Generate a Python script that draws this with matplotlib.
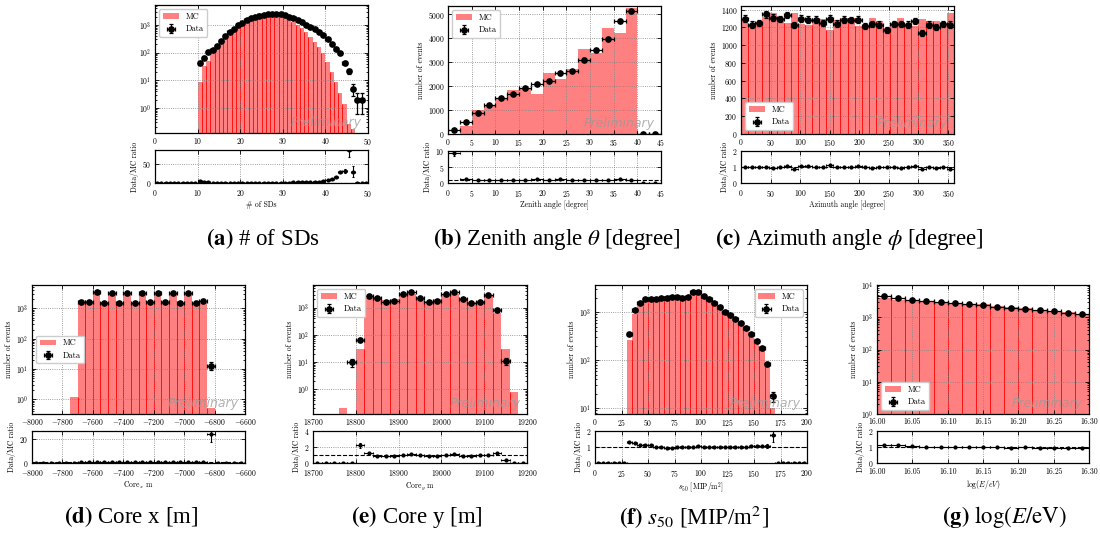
# Data/MC comparison plots for the SD reconstruction variables
import numpy as np
import matplotlib
matplotlib.use("Agg")
import matplotlib.pyplot as plt
from matplotlib.ticker import FormatStrFormatter

plt.rcParams["font.family"] = ["cmr10", "DejaVu Serif"]
plt.rcParams["mathtext.fontset"] = "cm"
plt.rcParams["axes.formatter.use_mathtext"] = True

# ---------------- data ----------------
# (a) number of SDs, bins of 1
sd_edges = np.arange(0, 51, 1)
sd_mc = [0] * 10 + [9, 33, 50, 110, 165, 250, 400, 575, 800, 1090,
                    1320, 1650, 2000, 2300, 2650, 2800, 2800, 2750, 2650, 2300,
                    2000, 1600, 1320, 1000, 760, 540, 380, 250, 155, 95,
                    45, 20, 9, 3.5, 1.4, 0.26, 0.17] + [0] * 3
sd_data = [0] * 10 + [44, 66, 110, 125, 173, 257, 400, 540, 720, 1000,
                      1200, 1500, 1750, 2000, 2180, 2350, 2430, 2500, 2500, 2430,
                      2250, 2000, 1750, 1500, 1250, 1000, 870, 700, 540, 420,
                      300, 200, 140, 100, 44, 22, 5, 2, 2] + [0]

# (b) zenith angle, bins of 2.5 deg
zen_edges = np.arange(0, 47.5, 2.5)
zen_mc = [18, 350, 1010, 1150, 1450, 1850, 1870, 1670, 2560, 2300,
          2710, 3560, 3400, 4430, 4210, 5260, 0, 0]
zen_data = [167, 486, 860, 1210, 1500, 1690, 1930, 2100, 2220, 2530,
            2640, 3100, 3500, 3970, 4720, 5125, 0, 0]

# (c) azimuth angle, bins of 12 deg
azi_edges = np.arange(0, 361, 12)
azi_mc = [1280, 1240, 1260, 1320, 1360, 1300, 1250, 1360, 1240, 1230,
          1290, 1290, 1170, 1280, 1300, 1300, 1210, 1230, 1310, 1270,
          1190, 1240, 1310, 1240, 1210, 1290, 1270, 1270, 1250, 1360]
azi_data = [1299, 1231, 1250, 1347, 1310, 1291, 1336, 1224, 1299, 1287,
            1287, 1250, 1299, 1243, 1287, 1280, 1287, 1213, 1235, 1231,
            1175, 1235, 1235, 1231, 1269, 1138, 1231, 1205, 1235, 1231]

# (d) core x, bins of 50 m
cx_edges = np.arange(-8000, -6599, 50)
cx_mc = [0] * 5 + [1.2, 1550, 1800, 3200, 1600, 3200, 1550, 3200, 1500, 3100,
                   1550, 3100, 1550, 3200, 1500, 3200, 1500, 1460, 0.53] + [0] * 4
cx_data = [0] * 6 + [1577, 1660, 3370, 1540, 3270, 1540, 3270, 1460, 3120,
                     1580, 3120, 1580, 3270, 1540, 3270, 1540, 1790, 13] + [0] * 4

# (e) core y, bins of 20 m
cy_edges = np.arange(18700, 19201, 20)
cy_mc = [0] * 3 + [0.21, 0, 30, 2290, 2440, 1850, 2060, 3170, 3170, 2320, 1740,
                   2060, 3170, 3170, 2330, 1600, 1750, 2760, 656, 29, 0.78] + [0]
cy_data = [0] * 4 + [10, 66, 2750, 2200, 1570, 1750, 3170, 3640, 2200, 1570,
                     1750, 3170, 3640, 2100, 1440, 1660, 2900, 820, 11] + [0] * 2

# (f) s50, bins of 5 MIP/m^2
s50_edges = np.arange(0, 201, 5)
s50_mc = [0] * 6 + [264, 900, 1380, 1660, 1690, 1940, 2020, 2200, 2230, 2050,
                    1990, 1990, 2560, 2490, 2180, 1820, 1540, 1310, 1050, 880,
                    730, 590, 450, 333, 241, 171, 79, 10.3] + [0] * 6
s50_data = [0] * 6 + [348, 1120, 1590, 1860, 1860, 1900, 1960, 2020, 2050, 2050,
                      2020, 2050, 2610, 2610, 2220, 1860, 1540, 1310, 1030, 880,
                      730, 590, 460, 360, 253, 180, 85, 18] + [0] * 6

# (g) log(E/eV), bins of 0.02
le_edges = np.linspace(16.0, 16.3, 16)
le_mc = [3955, 3545, 3314, 3176, 3010, 2857, 2620, 2490, 2216, 2042,
         1887, 1729, 1589, 1458, 1292]
le_data = [4430, 3900, 3480, 3240, 3010, 2800, 2620, 2440, 2150, 1960,
           1830, 1660, 1510, 1400, 1240]

# ---------------- figure ----------------
W, H = 1100, 535
fig = plt.figure(figsize=(W / 100, H / 100), dpi=100)
BAR = "#ff8080"


def px(l, t, r, b):
    return [l / W, 1 - b / H, (r - l) / W, (b - t) / H]


def style(ax):
    ax.tick_params(which="both", direction="in", top=True, right=True,
                   labelsize=5.5, width=0.6, pad=2.5)
    ax.tick_params(axis="x", which="major", pad=3.5)
    ax.tick_params(which="major", length=3)
    ax.tick_params(which="minor", length=1.5)
    ax.grid(True, which="major", ls=":", color="gray", lw=0.6)
    for s in ax.spines.values():
        s.set_linewidth(0.9)


def panel(main_box, ratio_box, edges, mc, data, logy, ylim, rlim, rticks,
          xticks, xlabel, ylabel=True, loc="upper left", red_lines=True, xfmt=None):
    edges = np.asarray(edges, float)
    mc = np.asarray(mc, float)
    data = np.asarray(data, float)
    centers = 0.5 * (edges[:-1] + edges[1:])
    half = 0.5 * np.diff(edges)

    ax = fig.add_axes(px(*main_box))
    keep = mc > 0
    ax.bar(edges[:-1][keep], mc[keep], width=np.diff(edges)[keep], align="edge",
           color=BAR, linewidth=0, label="MC", zorder=1)
    if red_lines:
        top = np.minimum(mc[:-1], mc[1:])
        m = top > 0
        ax.vlines(edges[1:-1][m], ylim[0], top[m], color="red", lw=0.6, zorder=1.5)
    show = data > 0 if logy else np.ones(len(data), bool)
    ax.errorbar(centers[show], data[show], xerr=half[show], yerr=np.sqrt(data[show]),
                fmt="o", color="black", ms=3.8, capsize=1.5, elinewidth=0.9,
                capthick=0.9, label="Data", zorder=3)
    if logy:
        ax.set_yscale("log")
    ax.set_ylim(*ylim)
    ax.set_xlim(edges[0], edges[-1])
    ax.set_xticks(xticks)
    if xfmt:
        ax.xaxis.set_major_formatter(FormatStrFormatter(xfmt))
    if ylabel:
        ax.set_ylabel("number of events", fontsize=5.5, labelpad=2)
    style(ax)
    ax.tick_params(axis="x", which="major", pad=2.5)
    ax.legend(loc=loc, fontsize=6, framealpha=1, edgecolor="0.8")
    ax.text(0.97, 0.03, "Preliminary", transform=ax.transAxes, ha="right",
            va="bottom", fontsize=9, style="italic", family="DejaVu Sans",
            color="0.6", alpha=0.75, zorder=4)

    rax = fig.add_axes(px(*ratio_box))
    safe = np.where(mc > 0, mc, 1)
    ratio = np.where(mc > 0, data / safe, 0)
    rerr = np.where((mc > 0) & (data > 0), np.sqrt(data) / safe, 0)
    rax.errorbar(centers, ratio, xerr=half, yerr=rerr, fmt="o", color="black",
                 ms=2, capsize=1, elinewidth=0.8, capthick=0.8, zorder=3)
    rax.axhline(1, color="black", ls="--", lw=0.8, zorder=2)
    rax.set_xlim(edges[0], edges[-1])
    rax.set_xticks(xticks)
    if xfmt:
        rax.xaxis.set_major_formatter(FormatStrFormatter(xfmt))
    rax.set_ylim(*rlim)
    rax.set_yticks(rticks)
    rax.set_ylabel("Data/MC ratio", fontsize=5.5, labelpad=2)
    rax.set_xlabel(xlabel, fontsize=5.5, labelpad=1.5)
    style(rax)


panel((155, 5, 368, 133), (155, 150, 368, 183), sd_edges, sd_mc, sd_data, True,
      (0.125, 5300), (0, 85), [0, 50], np.arange(0, 51, 10), "# of SDs", ylabel=False)
panel((448, 6, 661, 134), (448, 151, 661, 183), zen_edges, zen_mc, zen_data, False,
      (0, 5350), (0, 10), [0, 5, 10], np.arange(0, 46, 5), "Zenith angle [degree]",
      red_lines=False)
panel((741, 6, 954, 134), (741, 151, 954, 183), azi_edges, azi_mc, azi_data, False,
      (0, 1440), (0, 2), [0, 1, 2], np.arange(0, 351, 50), "Azimuth angle [degree]",
      loc="lower left")
panel((32, 285, 245, 414), (32, 431, 245, 463), cx_edges, cx_mc, cx_data, True,
      (0.33, 5900), (0, 27), [0, 20], np.arange(-8000, -6599, 200), r"Core$_x$ m",
      loc="center left")
panel((313, 285, 527, 414), (313, 431, 527, 463), cy_edges, cy_mc, cy_data, True,
      (0.125, 6700), (0, 4), [0, 2, 4], np.arange(18700, 19201, 100), r"Core$_y$ m")
panel((595, 285, 807, 414), (595, 431, 807, 463), s50_edges, s50_mc, s50_data, True,
      (7.6, 3700), (0, 2), [0, 1, 2], np.arange(0, 201, 25), r"$s_{50}$ [MIP/m$^2$]",
      loc="upper right")
panel((877, 285, 1089, 414), (877, 431, 1089, 463), le_edges, le_mc, le_data, True,
      (1, 1e4), (0, 2), [0, 1, 2], np.arange(16.0, 16.31, 0.05), r"$\log(E/eV)$",
      loc="lower left", xfmt="%.2f")

# ---------------- captions ----------------
captions = [
    (263, 239, r"$\mathbf{(a)}$ # of SDs"),
    (557, 239, r"$\mathbf{(b)}$ Zenith angle $\theta$ [degree]"),
    (849, 239, r"$\mathbf{(c)}$ Azimuth angle $\phi$ [degree]"),
    (131, 517, r"$\mathbf{(d)}$ Core x [m]"),
    (417, 517, r"$\mathbf{(e)}$ Core y [m]"),
    (694, 517, r"$\mathbf{(f)}$ $s_{50}$ [MIP/m$^2$]"),
    (1004, 517, r"$\mathbf{(g)}$ $\log(E/\mathrm{eV})$"),
]
for x, y, txt in captions:
    fig.text(x / W, 1 - y / H, txt, ha="center", va="center", fontsize=16.5,
             family="Liberation Serif", math_fontfamily="stix")

fig.savefig("out.png", dpi=100)
